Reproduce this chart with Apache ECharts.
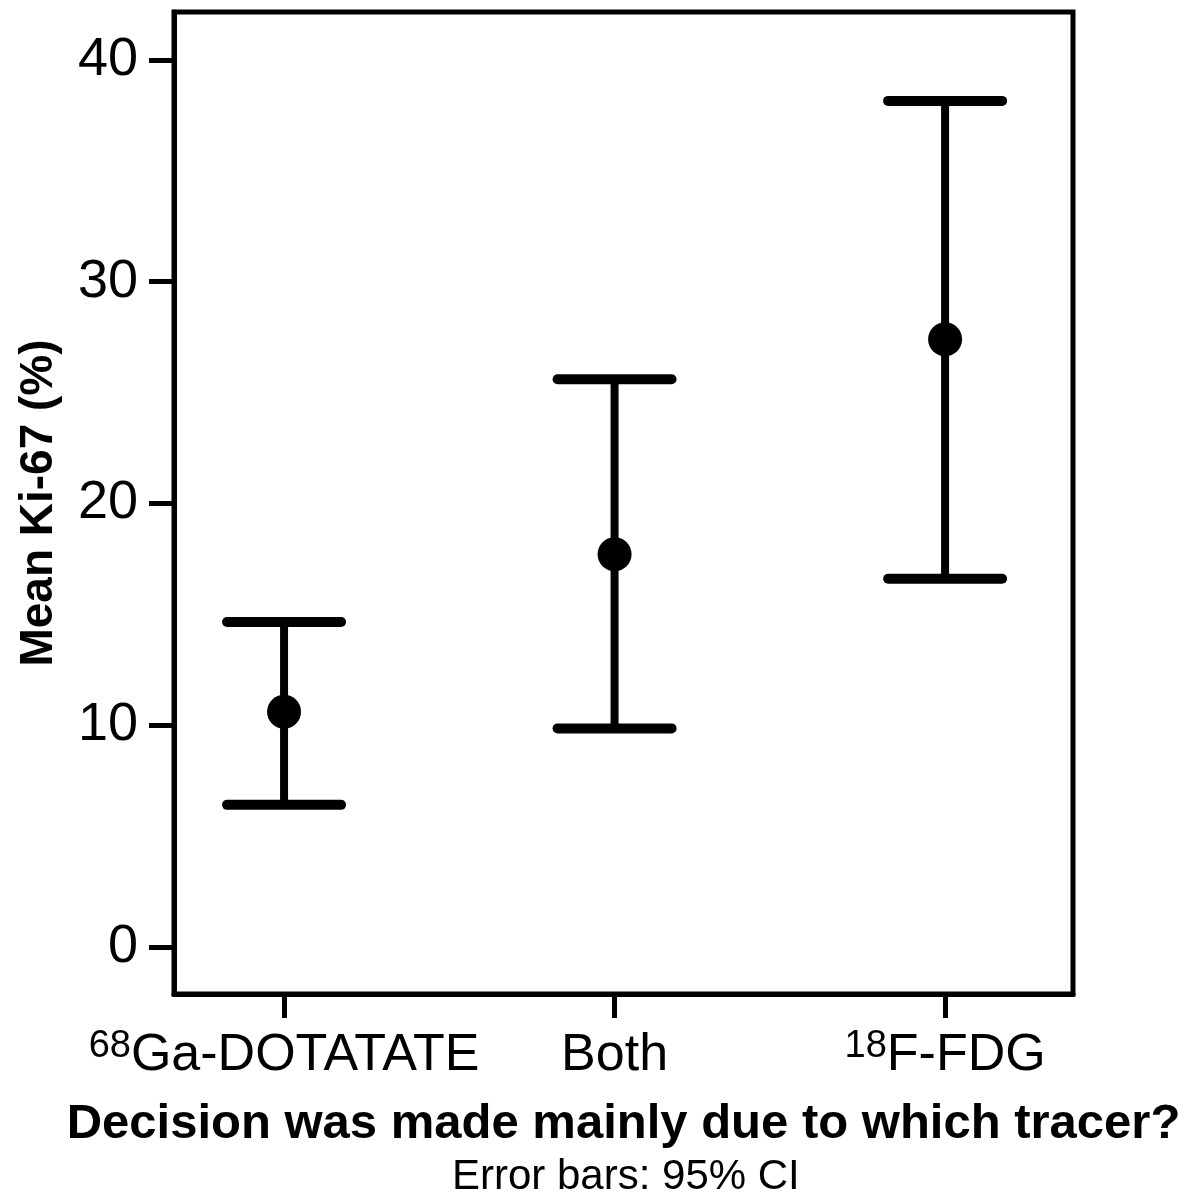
<!DOCTYPE html>
<html>
<head>
<meta charset="utf-8">
<script src="https://cdn.jsdelivr.net/npm/echarts@6/dist/echarts.min.js"></script>
<style>
  html, body { margin: 0; padding: 0; background: #fff; }
  #chart { width: 1190px; height: 1201px; }
</style>
</head>
<body>
<div id="chart"></div>
<script>
// tracer groups (superscript isotope + name), position index on the x axis
var isotopes = ['68', '', '18'];
var tracers = ['Ga-DOTATATE', 'Both', 'F-FDG'];
var groupIndex = [0, 1, 2];

// mean Ki-67 (%) and 95% CI
var meanKi67 = [10.6, 17.7, 27.4];
var ciLower = [6.4, 9.85, 16.6];
var ciUpper = [14.65, 25.6, 38.15];

var yTicks = [0, 10, 20, 30, 40];

var FONT = '"Liberation Sans", Arial, sans-serif';

var barData = groupIndex.map(function (g, i) {
  return [g, ciLower[i], ciUpper[i]];
});
var meanData = groupIndex.map(function (g, i) {
  return [g, meanKi67[i]];
});

var myChart = echarts.init(document.getElementById('chart'));

var option = {
  backgroundColor: '#fff',
  animation: false,
  grid: {
    show: true,
    left: 174,
    right: 117,
    top: 12,
    bottom: 207,
    borderColor: '#000',
    borderWidth: 5,
    containLabel: false,
    outerBoundsMode: 'none'
  },
  xAxis: {
    type: 'value',
    min: -0.333,
    max: 2.387,
    splitLine: { show: false },
    axisLine: { show: true, onZero: false, lineStyle: { color: '#000', width: 5 } },
    axisTick: {
      show: true,
      customValues: groupIndex,
      length: 24,
      lineStyle: { color: '#000', width: 5 }
    },
    axisLabel: {
      customValues: groupIndex,
      margin: 34,
      color: '#000',
      formatter: function (v) {
        var i = Math.round(v);
        if (isotopes[i]) return '{sup|' + isotopes[i] + '}{base|' + tracers[i] + '}';
        return '{base|' + tracers[i] + '}';
      },
      rich: {
        sup: { fontFamily: FONT, fontSize: 38, color: '#000', verticalAlign: 'top', lineHeight: 56 },
        base: { fontFamily: FONT, fontSize: 52, color: '#000', lineHeight: 56 }
      }
    },
    name: 'Decision was made mainly due to which tracer?',
    nameLocation: 'middle',
    nameGap: 106,
    nameMoveOverlap: false,
    nameTextStyle: { fontFamily: FONT, fontSize: 49, fontWeight: 'bold', color: '#000' }
  },
  yAxis: {
    type: 'value',
    min: -2.13,
    max: 42.16,
    splitLine: { show: false },
    axisLine: { show: true, onZero: false, lineStyle: { color: '#000', width: 5 } },
    axisTick: {
      show: true,
      customValues: yTicks,
      length: 25,
      lineStyle: { color: '#000', width: 5 }
    },
    axisLabel: {
      customValues: yTicks,
      margin: 36,
      fontFamily: FONT,
      fontSize: 54,
      color: '#000'
    },
    name: 'Mean Ki-67 (%)',
    nameLocation: 'middle',
    nameRotate: 90,
    nameGap: 112,
    nameMoveOverlap: false,
    nameTextStyle: { fontFamily: FONT, fontSize: 46, fontWeight: 'bold', color: '#000' }
  },
  graphic: [
    {
      type: 'text',
      left: 452,
      top: 1156,
      style: {
        text: 'Error bars: 95% CI',
        fontFamily: FONT,
        fontSize: 42,
        fill: '#000'
      }
    }
  ],
  series: [
    {
      type: 'custom',
      data: barData,
      z: 2,
      renderItem: function (params, api) {
        var x = api.value(0);
        var lo = api.coord([x, api.value(1)]);
        var hi = api.coord([x, api.value(2)]);
        var half = 57;
        var capStyle = { stroke: '#000', lineWidth: 10, lineCap: 'round' };
        return {
          type: 'group',
          children: [
            { type: 'line', shape: { x1: hi[0], y1: hi[1], x2: lo[0], y2: lo[1] }, style: { stroke: '#000', lineWidth: 8 } },
            { type: 'line', shape: { x1: hi[0] - half, y1: hi[1], x2: hi[0] + half, y2: hi[1] }, style: capStyle },
            { type: 'line', shape: { x1: lo[0] - half, y1: lo[1], x2: lo[0] + half, y2: lo[1] }, style: capStyle }
          ]
        };
      }
    },
    {
      type: 'scatter',
      data: meanData,
      z: 3,
      symbol: 'circle',
      symbolSize: 34,
      itemStyle: { color: '#000', opacity: 1 }
    }
  ]
};

myChart.setOption(option);
window.onresize = function () {
  myChart.resize();
};
</script>
</body>
</html>
